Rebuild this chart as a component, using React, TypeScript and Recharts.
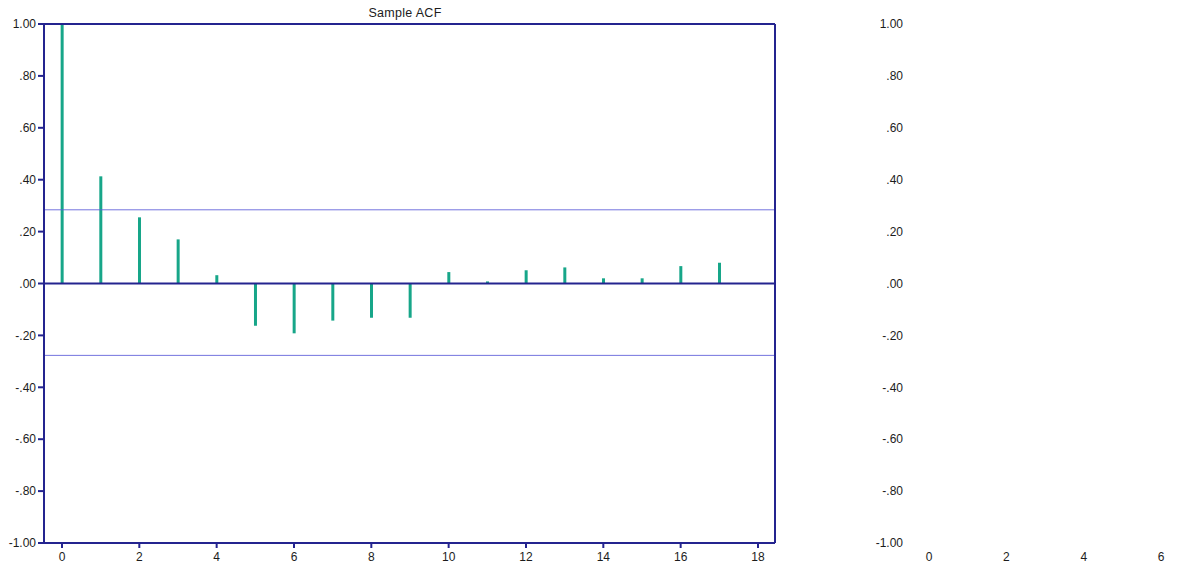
import React from 'react';
import {
  BarChart,
  Bar,
  XAxis,
  YAxis,
  ReferenceLine,
} from 'recharts';

// sample autocorrelation by lag
const lags: number[] = [0, 1, 2, 3, 4, 5, 6, 7, 8, 9, 10, 11, 12, 13, 14, 15, 16, 17];
const acfValues: number[] = [
  1.0, 0.413, 0.255, 0.17, 0.032, -0.163, -0.192, -0.143, -0.132, -0.132,
  0.044, 0.008, 0.051, 0.062, 0.02, 0.02, 0.067, 0.08,
];
const upperBound = 0.284;
const lowerBound = -0.277;

const yTicks: number[] = [1, 0.8, 0.6, 0.4, 0.2, 0, -0.2, -0.4, -0.6, -0.8, -1];
const xTicksLeft: number[] = [0, 2, 4, 6, 8, 10, 12, 14, 16, 18];
const xTicksRight: number[] = [0, 2, 4, 6];

const acfData = lags.map((lag, i) => ({ lag, value: acfValues[i] }));
// second panel has no bars, only its axis labels
const emptyData = xTicksRight.map((lag) => ({ lag, value: null }));

const NAVY = '#24248f';
const TEXT = '#1c1c1c';
const FONT = '"Liberation Sans", Arial, sans-serif';

// 1 -> "1.00", 0.8 -> ".80", -0.2 -> "-.20"
const fmt = (v: number) => {
  const s = Math.abs(v).toFixed(2).replace(/^0/, '');
  return v < 0 ? '-' + s : s;
};

const tickStyle = { fill: TEXT, fontSize: 12, fontFamily: FONT };

export default function App() {
  return (
    <div style={{ position: 'absolute', left: 0, top: 0, width: 1177, height: 567, background: '#fff' }}>
      <div
        style={{
          position: 'absolute',
          top: 6,
          left: 305,
          width: 200,
          textAlign: 'center',
          fontFamily: FONT,
          fontSize: 12.5,
          letterSpacing: 0.3,
          color: TEXT,
        }}
      >
        Sample ACF
      </div>

      {/* ACF panel */}
      <div style={{ position: 'absolute', left: 0, top: 0 }}>
        <BarChart
          width={800}
          height={567}
          data={acfData}
          margin={{ top: 24, right: 25, bottom: 0, left: 0 }}
        >
          <XAxis
            dataKey="lag"
            type="number"
            domain={[-0.465, 18.44]}
            allowDataOverflow
            ticks={xTicksLeft}
            height={24}
            tickSize={5}
            tickMargin={4}
            axisLine={{ stroke: NAVY, strokeWidth: 2 }}
            tickLine={{ stroke: NAVY, strokeWidth: 2 }}
            tick={tickStyle}
          />
          <YAxis
            type="number"
            domain={[-1, 1]}
            ticks={yTicks}
            width={44}
            tickSize={6}
            tickMargin={2}
            tickFormatter={fmt}
            axisLine={{ stroke: NAVY, strokeWidth: 2 }}
            tickLine={{ stroke: NAVY, strokeWidth: 2 }}
            tick={tickStyle}
          />
          <ReferenceLine y={upperBound} stroke="#5c5cd8" strokeWidth={1} strokeOpacity={0.85} />
          <ReferenceLine y={lowerBound} stroke="#5c5cd8" strokeWidth={1} strokeOpacity={0.85} />
          <Bar dataKey="value" fill="#17a689" barSize={3} isAnimationActive={false} />
          <ReferenceLine y={0} stroke={NAVY} strokeWidth={2} />
          <ReferenceLine y={1} stroke={NAVY} strokeWidth={2} />
          <ReferenceLine x={18.44} stroke={NAVY} strokeWidth={2} />
        </BarChart>
      </div>

      {/* empty second panel */}
      <div style={{ position: 'absolute', left: 867, top: 0 }}>
        <BarChart
          width={310}
          height={567}
          data={emptyData}
          margin={{ top: 24, right: 0, bottom: 0, left: 0 }}
        >
          <XAxis
            dataKey="lag"
            type="number"
            domain={[-0.465, 6.41]}
            allowDataOverflow
            ticks={xTicksRight}
            height={24}
            tickSize={5}
            tickMargin={4}
            axisLine={false}
            tickLine={false}
            tick={tickStyle}
          />
          <YAxis
            type="number"
            domain={[-1, 1]}
            allowDataOverflow
            ticks={yTicks}
            interval={0}
            width={44}
            tickSize={6}
            tickMargin={2}
            tickFormatter={fmt}
            axisLine={false}
            tickLine={false}
            tick={tickStyle}
          />
          <Bar dataKey="value" fill="#17a689" barSize={3} isAnimationActive={false} />
        </BarChart>
      </div>
    </div>
  );
}
